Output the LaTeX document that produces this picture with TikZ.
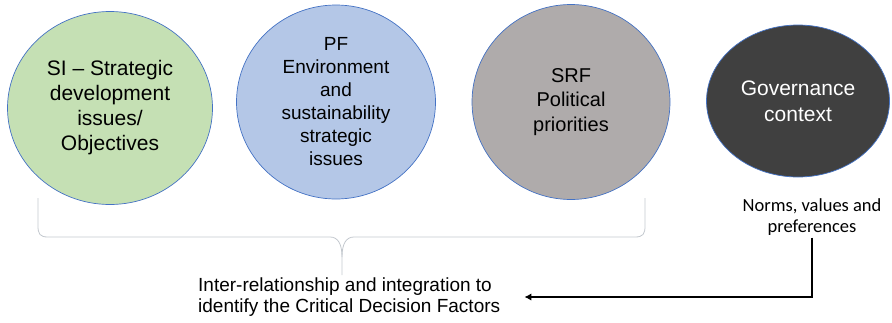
\documentclass[tikz,border=0pt]{standalone}
\usepackage{fontspec}
\setmainfont{Liberation Sans}
\newfontfamily\calibri{Carlito}
\usetikzlibrary{arrows.meta,positioning,shapes.geometric}

\definecolor{sigreen}{HTML}{C5E0B4}
\definecolor{pfblue}{HTML}{B4C7E7}
\definecolor{srfgrey}{HTML}{AFABAB}
\definecolor{govdark}{HTML}{404040}
\definecolor{rimblue}{HTML}{4472C4}
\definecolor{bracegrey}{HTML}{C3C8CE}

\begin{document}
\begin{tikzpicture}[
  x=1pt,y=-1pt,
  >=Latex,
  factor/.style={ellipse,draw=rimblue,line width=.7pt,inner sep=0pt,align=center},
  note/.style={inner sep=2pt},
  arrow/.style={->,line width=2.2pt,black,arrows={-Latex[length=7pt,width=7.5pt]}}
]
  \useasboundingbox (0,0) rectangle (892,322);

  \node[factor,fill=sigreen,minimum width=205pt,minimum height=193pt,
        font={\fontsize{21}{25}\selectfont}] (si) at (110,108)
    {SI -- Strategic\\development\\issues/\\Objectives};
  \node[factor,fill=pfblue,minimum width=199pt,minimum height=194pt,
        font={\fontsize{19}{23}\selectfont}] (pf) at (336,102)
    {PF\\Environment\\and\\sustainability\\strategic\\issues};
  \node[factor,fill=srfgrey,minimum width=198pt,minimum height=195pt,
        font={\fontsize{20}{24.5}\selectfont}] (srf) at (571,102)
    {SRF\\Political\\priorities};
  \node[factor,fill=govdark,text=white,minimum width=183pt,minimum height=152pt,
        font={\fontsize{21}{26}\selectfont}] (gov) at (798,101)
    {Governance\\context};

  \node[note,align=center,font={\calibri\fontsize{18.5}{21}\selectfont}] (norms) at (812,217)
    {Norms, values and\\preferences};
  \node[note,inner sep=0pt,align=left,anchor=west,font={\fontsize{19}{21}\selectfont}] (cdf) at (198,297)
    {Inter-relationship and integration to\\identify the Critical Decision Factors};

  % brace under the three factors
  \draw[bracegrey,line width=.8pt]
    (38,198) -- (38,226) .. controls (38,234) and (40,237) .. (48,237) -- (330,237)
    .. controls (338,237) and (342,244) .. (342,257) -- (342,275);
  \draw[bracegrey,line width=.8pt]
    (645,198) -- (645,226) .. controls (645,234) and (643,237) .. (635,237) -- (354,237)
    .. controls (346,237) and (342,244) .. (342,257);

  \coordinate[right=24pt of cdf.east] (tip);
  \draw[arrow] (norms.south) |- (tip);

\end{tikzpicture}
\end{document}
